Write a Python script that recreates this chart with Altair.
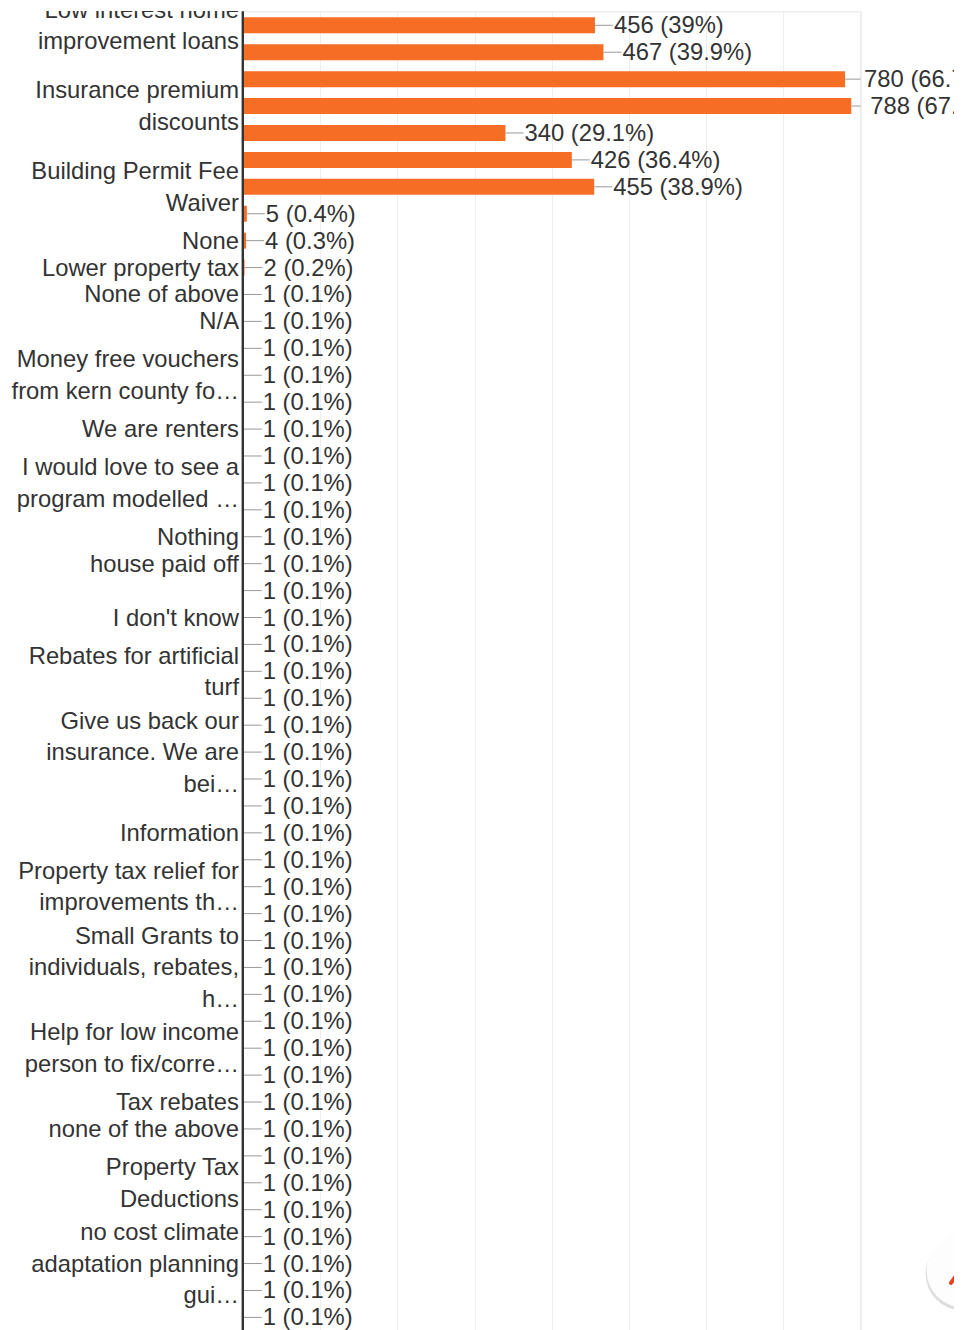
import altair as alt
import pandas as pd

COUNTS = [456, 467, 780, 788, 340, 426, 455, 5, 4, 2] + [1] * 39
PERCENTS = ["39%", "39.9%", "66.7%", "67.4%", "29.1%", "36.4%", "38.9%", "0.4%", "0.3%", "0.2%"] + ["0.1%"] * 39
ROW_LABELS = [
    "Low interest home\nimprovement loans", "", "",
    "Insurance premium\ndiscounts", "", "",
    "Building Permit Fee\nWaiver", "",
    "None", "Lower property tax", "None of above", "N/A", "",
    "Money free vouchers\nfrom kern county fo…", "",
    "We are renters", "",
    "I would love to see a\nprogram modelled …", "",
    "Nothing", "house paid off", "",
    "I don't know", "",
    "Rebates for artificial\nturf", "", "",
    "Give us back our\ninsurance. We are\nbei…", "", "",
    "Information", "",
    "Property tax relief for\nimprovements th…", "", "",
    "Small Grants to\nindividuals, rebates,\nh…", "", "",
    "Help for low income\nperson to fix/corre…", "",
    "Tax rebates", "none of the above", "",
    "Property Tax\nDeductions", "", "",
    "no cost climate\nadaptation planning\ngui…", "", "",
]
GRID_VALUES = [0, 100, 200, 300, 400, 500, 600, 700, 800]

ORANGE = "#f66d26"
TEXT = "#333333"
LINE_HEIGHT = 31.5
FONT_SIZE = 23.8
W, H = 617.5, 1319

df = pd.DataFrame({
    "row": list(range(len(COUNTS))),
    "count": COUNTS,
    "label": [f"{c} ({p})" for c, p in zip(COUNTS, PERCENTS)],
    "cat": ROW_LABELS,
    "lines": [s.count("\n") + 1 if s else 0 for s in ROW_LABELS],
})
one = pd.DataFrame({"a": [0]})

y_enc = alt.Y(
    "row:O",
    sort=None,
    title=None,
    scale=alt.Scale(paddingInner=0, paddingOuter=0),
    axis=None,
)
x_scale = alt.Scale(domain=[0, 800], nice=False, zero=True)
x_enc = alt.X(
    "count:Q", title=None, scale=x_scale,
    axis=alt.Axis(values=GRID_VALUES, grid=True, gridColor="#eeeeee", gridWidth=1,
                  labels=False, ticks=False, domain=False, orient="bottom"),
)

base = alt.Chart(df)
bars = base.mark_bar(size=16, color=ORANGE).encode(x=x_enc, y=y_enc)
leaders = base.mark_rule(color="#999999", strokeWidth=1, x2Offset=18, clip=True).encode(
    x=x_enc, x2="count:Q", y=y_enc
)
labels = base.mark_text(
    align="left", baseline="middle", dx=19, dy=1, fontSize=FONT_SIZE,
    font="Liberation Sans", color=TEXT
).encode(x=x_enc, y=y_enc, text="label:N")

category_layers = [
    base.transform_filter(f"datum.lines == {n}").mark_text(
        align="right", baseline="middle", fontSize=FONT_SIZE, font="Liberation Sans", color=TEXT,
        lineBreak="\n", lineHeight=LINE_HEIGHT, dx=-4, dy=1 - (n - 1) * LINE_HEIGHT / 2,
    ).encode(x=alt.value(0), y=y_enc, text="cat:N")
    for n in (1, 2, 3)
]

axis_line = alt.Chart(one).mark_rule(color=TEXT, strokeWidth=2.4).encode(
    x=alt.value(-0.2), y=alt.value(-0.5), y2=alt.value(H + 5)
)
top_mask = alt.Chart(one).mark_rect(color="white").encode(
    x=alt.value(-240), x2=alt.value(-1.5), y=alt.value(-10), y2=alt.value(-0.8)
)
shadow = alt.Chart(one).mark_point(
    shape="circle", filled=True, color="#c8c8c8", opacity=0.6, size=5300
).encode(x=alt.value(719), y=alt.value(1262))
badge = alt.Chart(one).mark_point(
    shape="circle", filled=True, color="#fdfdfd", opacity=1, size=5300
).encode(x=alt.value(720), y=alt.value(1259))
pencil = alt.Chart(one).mark_rule(color="#e8401c", strokeWidth=4, strokeCap="round").encode(
    x=alt.value(708), x2=alt.value(719), y=alt.value(1271), y2=alt.value(1256)
)

chart = (
    alt.layer(bars, leaders, labels, *category_layers, axis_line, top_mask, shadow, badge, pencil)
    .resolve_scale(x="shared", y="shared")
    .properties(
        width=W, height=H,
        autosize=alt.AutoSizeParams(type="none"),
        padding={"left": 235, "top": 3.84, "right": 93.5, "bottom": -0.84},
        background="white",
    )
    .configure_view(stroke="#eeeeee", strokeWidth=1.5)
)

chart.save("out.html", embed_options={"renderer": "svg", "actions": False})
